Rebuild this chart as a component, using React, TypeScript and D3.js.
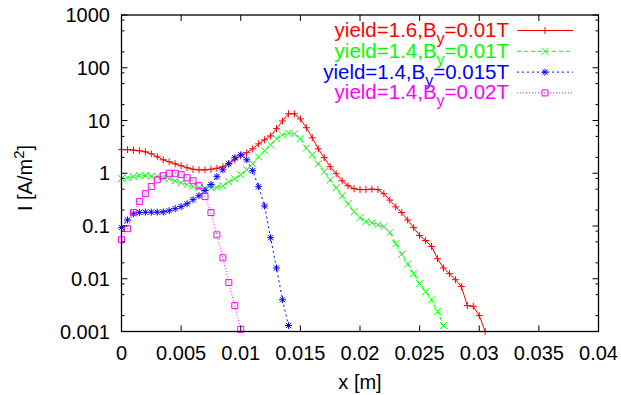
import React from "react";
import * as d3 from "d3";

// x positions in metres (every 0.0005 m) and current density I in A/m^2
const xRed = [0, 0.0005, 0.001, 0.0015, 0.002, 0.0025, 0.003, 0.0035, 0.004, 0.0045, 0.005, 0.0055, 0.006, 0.0065, 0.007, 0.0075, 0.008, 0.0085, 0.009, 0.0095, 0.01, 0.0105, 0.011, 0.0115, 0.012, 0.0125, 0.013, 0.0135, 0.014, 0.0145, 0.015, 0.0155, 0.016, 0.0165, 0.017, 0.0175, 0.018, 0.0185, 0.019, 0.0195, 0.02, 0.0205, 0.021, 0.0215, 0.022, 0.0225, 0.023, 0.0235, 0.024, 0.0245, 0.025, 0.0255, 0.026, 0.0265, 0.027, 0.0275, 0.028, 0.0285, 0.029, 0.0295, 0.03, 0.0305];
const iRed = [2.8, 2.8, 2.75, 2.67, 2.55, 2.34, 2.05, 1.8, 1.65, 1.51, 1.39, 1.27, 1.19, 1.16, 1.16, 1.19, 1.24, 1.33, 1.51, 1.8, 2.14, 2.45, 2.9, 3.6, 4.3, 5.1, 7.0, 9.8, 13.4, 13.4, 10.7, 7.3, 4.7, 2.9, 1.97, 1.33, 0.98, 0.72, 0.58, 0.51, 0.49, 0.49, 0.5, 0.49, 0.41, 0.31, 0.23, 0.18, 0.13, 0.093, 0.066, 0.053, 0.041, 0.024, 0.016, 0.0125, 0.0096, 0.0071, 0.0031, 0.003, 0.002, 0.001];

const xGreen = [0, 0.0005, 0.001, 0.0015, 0.002, 0.0025, 0.003, 0.0035, 0.004, 0.0045, 0.005, 0.0055, 0.006, 0.0065, 0.007, 0.0075, 0.008, 0.0085, 0.009, 0.0095, 0.01, 0.0105, 0.011, 0.0115, 0.012, 0.0125, 0.013, 0.0135, 0.014, 0.0145, 0.015, 0.0155, 0.016, 0.0165, 0.017, 0.0175, 0.018, 0.0185, 0.019, 0.0195, 0.02, 0.0205, 0.021, 0.0215, 0.022, 0.0225, 0.023, 0.0235, 0.024, 0.0245, 0.025, 0.0255, 0.026, 0.0265, 0.027];
const iGreen = [0.79, 0.82, 0.86, 0.9, 0.9, 0.88, 0.86, 0.82, 0.79, 0.72, 0.66, 0.61, 0.56, 0.53, 0.53, 0.53, 0.54, 0.58, 0.69, 0.79, 0.94, 1.16, 1.51, 2.05, 2.67, 3.45, 4.5, 5.3, 5.8, 5.6, 4.5, 3.0, 2.24, 1.51, 1.07, 0.75, 0.53, 0.375, 0.265, 0.187, 0.144, 0.121, 0.115, 0.106, 0.097, 0.075, 0.046, 0.029, 0.019, 0.0125, 0.0081, 0.0057, 0.004, 0.0024, 0.0013];

const xBlue = [0, 0.0005, 0.001, 0.0015, 0.002, 0.0025, 0.003, 0.0035, 0.004, 0.0045, 0.005, 0.0055, 0.006, 0.0065, 0.007, 0.0075, 0.008, 0.0085, 0.009, 0.0095, 0.01, 0.0105, 0.011, 0.0115, 0.012, 0.0125, 0.013, 0.0135, 0.014];
const iBlue = [0.093, 0.13, 0.17, 0.18, 0.183, 0.183, 0.183, 0.185, 0.195, 0.213, 0.233, 0.264, 0.315, 0.375, 0.47, 0.61, 0.86, 1.16, 1.51, 1.97, 2.24, 1.8, 1.12, 0.555, 0.24, 0.06, 0.016, 0.004, 0.0013];

const xMagenta = [0, 0.0005, 0.001, 0.0015, 0.002, 0.0025, 0.003, 0.0035, 0.004, 0.0045, 0.005, 0.0055, 0.006, 0.0065, 0.007, 0.0075, 0.008, 0.0085, 0.009, 0.0095, 0.01];
const iMagenta = [0.055, 0.089, 0.18, 0.29, 0.41, 0.56, 0.75, 0.9, 1.0, 1.0, 0.94, 0.82, 0.72, 0.58, 0.36, 0.18, 0.068, 0.025, 0.0085, 0.0031, 0.0011];

const xTicks = [0, 0.005, 0.01, 0.015, 0.02, 0.025, 0.03, 0.035, 0.04];
const yTicks = [0.001, 0.01, 0.1, 1, 10, 100, 1000];
const yMinorSteps = [2, 5, 8];

type Marker = "plus" | "cross" | "star" | "square";
type Series = { name: string; sub: string; rest: string; color: string; dash: string; marker: Marker; xs: number[]; ys: number[] };

const series: Series[] = [
  { name: "yield=1.6,B", sub: "y", rest: "=0.01T", color: "#ff0000", dash: "none", marker: "plus", xs: xRed, ys: iRed },
  { name: "yield=1.4,B", sub: "y", rest: "=0.01T", color: "#00ff00", dash: "4,3", marker: "cross", xs: xGreen, ys: iGreen },
  { name: "yield=1.4,B", sub: "y", rest: "=0.015T", color: "#0000ff", dash: "2,3", marker: "star", xs: xBlue, ys: iBlue },
  { name: "yield=1.4,B", sub: "y", rest: "=0.02T", color: "#ff00ff", dash: "1,2", marker: "square", xs: xMagenta, ys: iMagenta },
];

const W = 621;
const H = 395;
const margin = { left: 121.5, right: 22.5, top: 15, bottom: 63.5 };
const font = "'Liberation Sans', Arial, sans-serif";

function markerPath(m: Marker, cx: number, cy: number) {
  const s = 3.5;
  if (m === "plus") return `M${cx - s},${cy}H${cx + s}M${cx},${cy - s}V${cy + s}`;
  if (m === "cross") return `M${cx - s},${cy - s}L${cx + s},${cy + s}M${cx - s},${cy + s}L${cx + s},${cy - s}`;
  if (m === "star")
    return `M${cx - s},${cy}H${cx + s}M${cx},${cy - s}V${cy + s}M${cx - s * 0.75},${cy - s * 0.75}L${cx + s * 0.75},${cy + s * 0.75}M${cx - s * 0.75},${cy + s * 0.75}L${cx + s * 0.75},${cy - s * 0.75}`;
  const q = 3;
  return `M${cx - q},${cy - q}H${cx + q}V${cy + q}H${cx - q}Z`;
}

export default function App() {
  const x = d3.scaleLinear().domain([0, 0.04]).range([margin.left, W - margin.right]);
  const y = d3.scaleLog().domain([0.001, 1000]).range([H - margin.bottom, margin.top]);
  const [x0, x1] = x.range();
  const [yb, yt] = y.range();

  const minorY: number[] = [];
  yTicks.slice(0, -1).forEach((t) => yMinorSteps.forEach((k) => minorY.push(t * k)));

  const line = d3.line<[number, number]>().x((d) => x(d[0])).y((d) => y(d[1]));

  return (
    <svg width={W} height={H} style={{ position: "absolute", left: 0, top: 0, background: "#fff" }} fontFamily={font}>
      {/* curves */}
      {series.map((s, si) => {
        const pts = s.xs.map((v, i) => [v, s.ys[i]] as [number, number]);
        return (
          <g key={si}>
            <path d={line(pts) ?? ""} fill="none" stroke={s.color} strokeWidth={1} strokeDasharray={s.dash} />
            {pts.map((p, i) => (
              <path key={i} d={markerPath(s.marker, x(p[0]), y(p[1]))} fill="none" stroke={s.color} strokeWidth={1} />
            ))}
          </g>
        );
      })}

      {/* ticks */}
      {xTicks.map((t) => (
        <g key={"x" + t}>
          <line x1={x(t)} x2={x(t)} y1={yb} y2={yb - 6} stroke="#000" />
          <line x1={x(t)} x2={x(t)} y1={yt} y2={yt + 6} stroke="#000" />
          <text x={x(t)} y={360} textAnchor="middle" fontSize={20} fill="#000">
            {t === 0 ? "0" : String(t)}
          </text>
        </g>
      ))}
      {yTicks.map((t) => (
        <g key={"y" + t}>
          <line x1={x0} x2={x0 + 6} y1={y(t)} y2={y(t)} stroke="#000" />
          <line x1={x1} x2={x1 - 6} y1={y(t)} y2={y(t)} stroke="#000" />
          <text x={110} y={y(t) + 7} textAnchor="end" fontSize={20} fill="#000">
            {t < 1 ? String(t) : d3.format("d")(t)}
          </text>
        </g>
      ))}
      {minorY.map((t) => (
        <g key={"m" + t}>
          <line x1={x0} x2={x0 + 3} y1={y(t)} y2={y(t)} stroke="#000" />
          <line x1={x1} x2={x1 - 3} y1={y(t)} y2={y(t)} stroke="#000" />
        </g>
      ))}

      {/* border */}
      <rect x={x0} y={yt} width={x1 - x0} height={yb - yt} fill="none" stroke="#000" strokeWidth={1.3} />

      {/* axis labels */}
      <text x={360} y={389} textAnchor="middle" fontSize={20} fill="#000">
        x [m]
      </text>
      <text transform={`translate(32,178) rotate(-90)`} textAnchor="middle" fontSize={20} fill="#000">
        I [A/m<tspan dy={-8} fontSize={15}>2</tspan>
        <tspan dy={8}>]</tspan>
      </text>

      {/* legend */}
      {series.map((s, i) => {
        const ly = 30.5 + i * 20.8;
        return (
          <g key={"l" + i}>
            <text x={509} y={ly + 6.5} textAnchor="end" fontSize={20.5} fill={s.color}>
              {s.name}
              <tspan dy={7} fontSize={16}>{s.sub}</tspan>
              <tspan dy={-7}>{s.rest}</tspan>
            </text>
            <line x1={517} x2={573} y1={ly} y2={ly} stroke={s.color} strokeDasharray={s.dash} />
            <path d={markerPath(s.marker, 545, ly)} fill="none" stroke={s.color} />
          </g>
        );
      })}
    </svg>
  );
}
